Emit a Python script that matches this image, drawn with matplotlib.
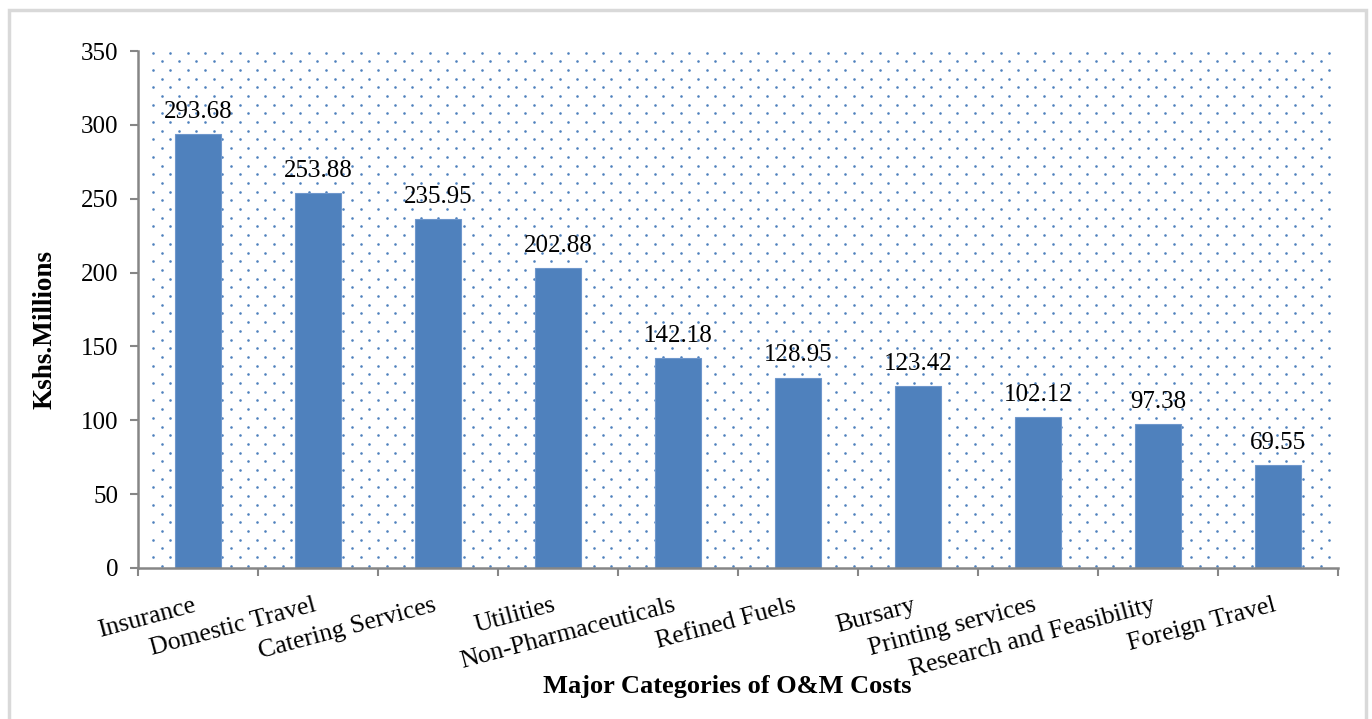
import matplotlib
matplotlib.use("Agg")
import matplotlib.pyplot as plt
import numpy as np
from matplotlib.patches import Rectangle

categories = ["Insurance", "Domestic Travel", "Catering Services", "Utilities",
              "Non-Pharmaceuticals", "Refined Fuels", "Bursary", "Printing services",
              "Research and Feasibility", "Foreign Travel"]
values = [293.68, 253.88, 235.95, 202.88, 142.18, 128.95, 123.42, 102.12, 97.38, 69.55]
yticks = [0, 50, 100, 150, 200, 250, 300, 350]

plt.rcParams['font.family'] = ['Liberation Serif', 'DejaVu Serif']

W, H = 1372, 719
fig = plt.figure(figsize=(W/100, H/100), dpi=100)
# outer light-gray border
fig.patches.append(Rectangle((9/W, -0.01), (1366-9)/W, (H-10)/H + 0.01, transform=fig.transFigure,
                             fill=False, edgecolor='#d9d9d9', linewidth=2.5))

ax_l, ax_r, ax_t, ax_b = 138, 1338, 51, 568
ax = fig.add_axes([ax_l/W, 1-ax_b/H, (ax_r-ax_l)/W, (ax_b-ax_t)/H])

# dotted background pattern
pw, ph = ax_r-ax_l, ax_b-ax_t
dx, dy = 17.3, 8.7
pts_x, pts_y = [], []
for j, yy in enumerate(np.arange(ph - 1.5, 0, -dy)):
    off = 15 if j % 2 == 0 else 15 + dx/2
    xx = np.arange(off, pw - 3, dx)
    pts_x.extend(xx/pw)
    pts_y.extend([yy/ph]*len(xx))
ax.scatter(pts_x, pts_y, s=3.5, color='#4f81bd', linewidths=0, transform=ax.transAxes,
           zorder=0, clip_on=True)

x = np.arange(len(categories))
bars = ax.bar(x, values, width=0.385, color='#4f81bd', edgecolor='#6f97cc', linewidth=0.8, zorder=2)
for xi, v in zip(x, values):
    ax.annotate(f"{v:.2f}", (xi, v), xytext=(0, 8), textcoords='offset points',
                ha='center', va='bottom', fontsize=18, color='black', zorder=3)

ax.set_xlim(-0.5, len(categories)-0.5)
ax.set_ylim(0, 350)
ax.set_yticks(yticks)
ax.set_yticklabels([str(t) for t in yticks], fontsize=18)
ax.set_xticks(np.arange(-0.5, len(categories), 1.0))
ax.set_xticklabels([])
ax.set_xticks(x, minor=True)
ax.set_xticklabels(categories, minor=True, rotation=15, ha='right', fontsize=18.5)
ax.tick_params(axis='x', which='minor', length=0, pad=19)
ax.tick_params(axis='x', which='major', length=6, width=1.5, color='#868686', direction='out')
ax.tick_params(axis='y', length=6, width=1.5, color='#868686', direction='out', pad=8)

for s in ['top', 'right']:
    ax.spines[s].set_visible(False)
for s in ['left', 'bottom']:
    ax.spines[s].set_color('#868686')
    ax.spines[s].set_linewidth(1.8)
ax.patch.set_visible(False)

fig.text(45/W, 1-330/H, "Kshs.Millions", rotation=90, ha='center', va='center',
         fontsize=19.5, fontweight='bold')
fig.text(727/W, 1-686/H, "Major Categories of O&M Costs", ha='center', va='center',
         fontsize=19, fontweight='bold')

fig.savefig("out.png", dpi=100, facecolor='white')
